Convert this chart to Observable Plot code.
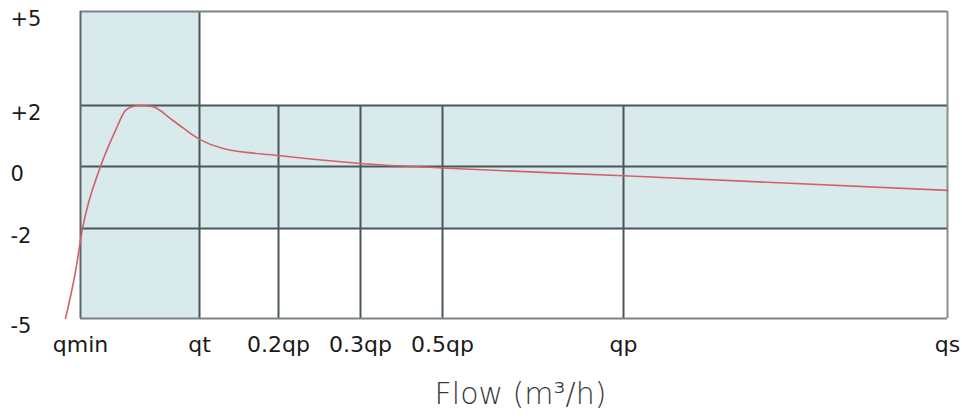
<!DOCTYPE html>
<html>
<head>
<meta charset="utf-8">
<script src="https://cdn.jsdelivr.net/npm/d3@7"></script>
<script src="https://cdn.jsdelivr.net/npm/@observablehq/plot@0.6"></script>
<style>
  html, body { margin: 0; padding: 0; background: #fff; }
  #title { font-family: "DejaVu Sans", sans-serif; font-size: 30px; font-weight: 300; color: #3a3a3a;
           text-align: center; padding-left: 94px; padding-right: 15px; line-height: 40px; margin-top: 12px; width: 962px; box-sizing: border-box; }
</style>
</head>
<body>
<div id="chart"></div>
<script>
// Flow categories (x axis) and error ticks (y axis, %)
const categories = ["qmin", "qt", "0.2qp", "0.3qp", "0.5qp", "qp", "qs"];
const yTicks = [5, 2, 0, -2, -5];
const yLabels = ["+5", "+2", "0", "-2", "-5"];

// Error curve: position in category units, error in %
const curveX = [-0.126, -0.045, 0.017, 0.168, 0.294, 0.378, 0.44, 0.5, 0.6, 0.78, 1.0, 1.3, 2.0, 3.0, 4.0, 5.0, 6.0];
const curveY = [-5, -3.5, -2, 0, 1.18, 1.84, 1.97, 2.0, 1.97, 1.5, 0.89, 0.59, 0.36, 0.1, -0.05, -0.30, -0.77];

// Tolerance zones
const bandX1 = [0, 1];
const bandX2 = [1, 6];
const bandY1 = [-5, -2];
const bandY2 = [5, 2];

const curve = curveX.map((x, i) => ({x, y: curveY[i]}));
const bands = bandX1.map((x1, i) => ({x1, x2: bandX2[i], y1: bandY1[i], y2: bandY2[i]}));
const idx = categories.map((c, i) => i);
const lastIdx = categories.length - 1;

const font = "DejaVu Sans, sans-serif";

const chart = Plot.plot({
  width: 962,
  height: 362,
  marginLeft: 80,
  marginRight: 15,
  marginTop: 11,
  marginBottom: 44,
  style: {background: "#fff", overflow: "visible", fontFamily: font},
  x: {type: "linear", domain: idx, range: [80, 199, 278, 360, 442, 623, 947], axis: null},
  y: {type: "linear", domain: [-5, -2, 0, 2, 5], range: [318, 228, 166, 105, 11], axis: null},
  marks: [
    Plot.rect(bands, {x1: "x1", x2: "x2", y1: "y1", y2: "y2", fill: "#d9eaed"}),
    // interior horizontal lines
    Plot.ruleY(yTicks.filter(v => v !== 5 && v !== -5), {x1: 0, x2: lastIdx, stroke: "#4a5658", strokeWidth: 2}),
    // interior vertical lines
    Plot.ruleX(idx.filter(i => i > 0 && i < lastIdx), {y1: -5, y2: i => (i === 1 ? 5 : 2), stroke: "#4a5658", strokeWidth: 2}),
    // frame
    Plot.ruleY([5, -5], {x1: 0, x2: lastIdx, stroke: "#7d8384", strokeWidth: 2}),
    Plot.ruleX([0], {y1: -5, y2: 5, stroke: "#5c6668", strokeWidth: 2}),
    Plot.ruleX([lastIdx], {y1: -5, y2: 5, stroke: "#8a8e8f", strokeWidth: 2}),
    // error curve
    Plot.line(curve, {x: "x", y: "y", curve: "monotone-x", stroke: "#d4606b", strokeWidth: 1.6}),
    // y labels
    Plot.text(yTicks, {y: d => d, text: (d, i) => yLabels[i], frameAnchor: "left", dx: -70, dy: 8, textAnchor: "start",
      fontSize: 21, fill: "#1a1a1a", fontFamily: font}),
    // x labels
    Plot.text(categories, {x: (d, i) => i, text: d => d, frameAnchor: "bottom", lineAnchor: "top", dy: 18,
      fontSize: 22, fill: "#1a1a1a", fontFamily: font})
  ]
});
document.getElementById("chart").append(chart);
const t = document.createElement("div");
t.id = "title";
t.textContent = "Flow (m³/h)";
document.body.append(t);
</script>
</body>
</html>
